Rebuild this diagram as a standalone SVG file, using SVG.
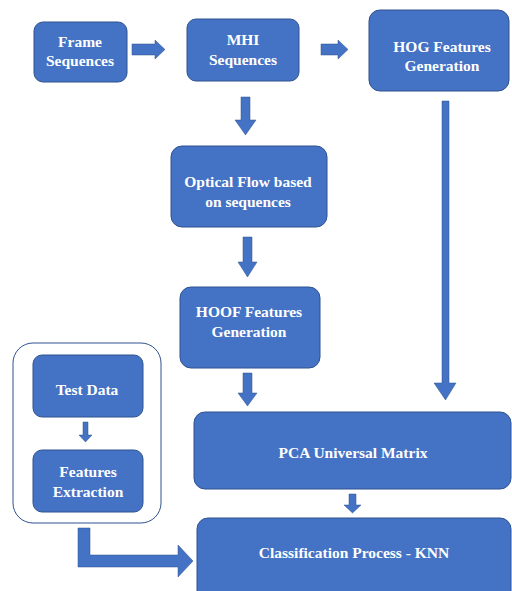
<svg xmlns="http://www.w3.org/2000/svg" width="512" height="591" viewBox="0 0 512 591">
<style>
.box{fill:#4472C4;stroke:#2F528F;stroke-width:1}
.arr{fill:#4472C4;stroke:#2F528F;stroke-width:0.5}
</style>
<rect width="512" height="591" fill="#ffffff"/>
<g id="test-group">
<rect x="13" y="343" width="148" height="180" rx="20" fill="#ffffff" stroke="#2F528F" stroke-width="1"/>
</g>
<g font-family="Liberation Serif, Times New Roman, serif" font-weight="bold" font-size="15.5" fill="#ffffff" text-anchor="middle">
<g id="frame">
<rect class="box" x="34" y="22" width="93" height="60" rx="9"/>
<text x="80" y="47">Frame</text>
<text x="80" y="66">Sequences</text>
</g>
<g id="mhi">
<rect class="box" x="187" y="19" width="112" height="62" rx="9"/>
<text x="243" y="45">MHI</text>
<text x="243" y="65">Sequences</text>
</g>
<g id="hog">
<rect class="box" x="369" y="10" width="140" height="81" rx="11"/>
<text x="442" y="52">HOG Features</text>
<text x="442" y="71">Generation</text>
</g>
<g id="optical">
<rect class="box" x="171" y="146" width="156" height="81" rx="11"/>
<text x="248" y="187">Optical Flow based</text>
<text x="248" y="207">on sequences</text>
</g>
<g id="hoof">
<rect class="box" x="180" y="287" width="140" height="81" rx="11"/>
<text x="249" y="317">HOOF Features</text>
<text x="249" y="337">Generation</text>
</g>
<g id="testdata">
<rect class="box" x="33" y="355" width="110" height="62" rx="9"/>
<text x="87" y="395">Test Data</text>
</g>
<g id="features">
<rect class="box" x="33" y="450" width="110" height="62" rx="9"/>
<text x="88" y="477">Features</text>
<text x="88" y="497">Extraction</text>
</g>
<g id="pca">
<rect class="box" x="194" y="412" width="317" height="77" rx="11"/>
<text x="353" y="458">PCA Universal Matrix</text>
</g>
<g id="knn">
<rect class="box" x="197" y="518" width="314" height="85" rx="11"/>
<text x="354" y="558">Classification Process - KNN</text>
</g>
</g>
<g id="connectors">
<polygon class="arr" points="132,44 155,44 155,40 165,49.5 155,59 155,55 132,55"/>
<polygon class="arr" points="321,44 338,44 338,40 348,49.5 338,59 338,55 321,55"/>
<polygon class="arr" points="241,97 250,97 250,120 256,120 245.5,135 235,120 241,120"/>
<polygon class="arr" points="442,101 449,101 449,383 456,383 445.5,400 434,383 442,383"/>
<polygon class="arr" points="243,237 252,237 252,262 257,262 247.5,277 238,262 243,262"/>
<polygon class="arr" points="243,373 252,373 252,393 257,393 247.5,406 238,393 243,393"/>
<polygon class="arr" points="349,494 356,494 356,505 361,505 352.5,513 344,505 349,505"/>
<polygon class="arr" points="83,422 88,422 88,435 92,435 85.5,442 79,435 83,435"/>
<polygon class="arr" points="78,528 90,528 90,555 178,555 178,545 193,561 178,577 178,567 78,567"/>
</g>
</svg>
